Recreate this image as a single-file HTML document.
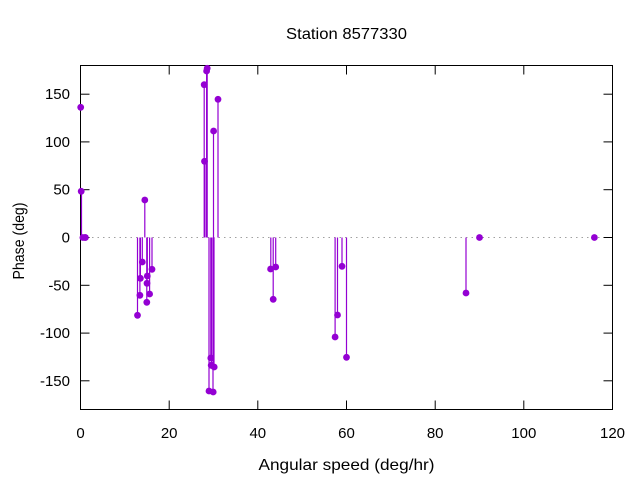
<!DOCTYPE html>
<html>
<head>
<meta charset="utf-8">
<style>
  html, body { margin: 0; padding: 0; background: #ffffff; }
  svg { display: block; }
  text { font-family: "Liberation Sans", "DejaVu Sans", sans-serif; fill: #000; }
</style>
</head>
<body>
<svg width="640" height="480" viewBox="0 0 640 480" xmlns="http://www.w3.org/2000/svg">
  <rect x="0" y="0" width="640" height="480" fill="#ffffff"/>

  <!-- title -->
  <text x="346.5" y="39" font-size="16" text-anchor="middle" textLength="121" lengthAdjust="spacingAndGlyphs">Station 8577330</text>

  <!-- zero reference line -->
  <line x1="81" y1="237.5" x2="612" y2="237.5" stroke="#a0a0a0" stroke-width="1" stroke-dasharray="1.5 4"/>

  <!-- border -->
  <rect x="80.5" y="65.5" width="532" height="344" fill="none" stroke="#000" stroke-width="1"/>

  <!-- ticks -->
  <g stroke="#000" stroke-width="1">
    <!-- y ticks left -->
    <line x1="80.5" y1="94.2" x2="89.5" y2="94.2"/>
    <line x1="80.5" y1="141.9" x2="89.5" y2="141.9"/>
    <line x1="80.5" y1="189.7" x2="89.5" y2="189.7"/>
    <line x1="80.5" y1="237.5" x2="89.5" y2="237.5"/>
    <line x1="80.5" y1="285.3" x2="89.5" y2="285.3"/>
    <line x1="80.5" y1="333.1" x2="89.5" y2="333.1"/>
    <line x1="80.5" y1="380.8" x2="89.5" y2="380.8"/>
    <!-- y ticks right -->
    <line x1="603.5" y1="94.2" x2="612.5" y2="94.2"/>
    <line x1="603.5" y1="141.9" x2="612.5" y2="141.9"/>
    <line x1="603.5" y1="189.7" x2="612.5" y2="189.7"/>
    <line x1="603.5" y1="237.5" x2="612.5" y2="237.5"/>
    <line x1="603.5" y1="285.3" x2="612.5" y2="285.3"/>
    <line x1="603.5" y1="333.1" x2="612.5" y2="333.1"/>
    <line x1="603.5" y1="380.8" x2="612.5" y2="380.8"/>
    <!-- x ticks bottom -->
    <line x1="169.2" y1="409.5" x2="169.2" y2="400.5"/>
    <line x1="257.8" y1="409.5" x2="257.8" y2="400.5"/>
    <line x1="346.5" y1="409.5" x2="346.5" y2="400.5"/>
    <line x1="435.2" y1="409.5" x2="435.2" y2="400.5"/>
    <line x1="523.8" y1="409.5" x2="523.8" y2="400.5"/>
    <!-- x ticks top -->
    <line x1="169.2" y1="65.5" x2="169.2" y2="74.5"/>
    <line x1="257.8" y1="65.5" x2="257.8" y2="74.5"/>
    <line x1="346.5" y1="65.5" x2="346.5" y2="74.5"/>
    <line x1="435.2" y1="65.5" x2="435.2" y2="74.5"/>
    <line x1="523.8" y1="65.5" x2="523.8" y2="74.5"/>
  </g>

  <!-- y tick labels -->
  <g font-size="15" text-anchor="end">
    <text x="70" y="99.2">150</text>
    <text x="70" y="146.9">100</text>
    <text x="70" y="194.7">50</text>
    <text x="70" y="242.5">0</text>
    <text x="70" y="290.3">-50</text>
    <text x="70" y="338.1">-100</text>
    <text x="70" y="385.8">-150</text>
  </g>

  <!-- x tick labels -->
  <g font-size="15" text-anchor="middle">
    <text x="80.5" y="438">0</text>
    <text x="169.2" y="438">20</text>
    <text x="257.8" y="438">40</text>
    <text x="346.5" y="438">60</text>
    <text x="435.2" y="438">80</text>
    <text x="523.8" y="438">100</text>
    <text x="612.5" y="438">120</text>
  </g>

  <!-- axis labels -->
  <text x="346.5" y="470" font-size="16" text-anchor="middle" textLength="176" lengthAdjust="spacingAndGlyphs">Angular speed (deg/hr)</text>
  <text transform="translate(24,241) rotate(-90)" font-size="16" text-anchor="middle" textLength="77" lengthAdjust="spacingAndGlyphs">Phase (deg)</text>

  <!-- impulses -->
  <g stroke="#9400d3" stroke-width="1.2">
    <line x1="81.5" y1="237.5" x2="81.5" y2="191.3"/>
    <line x1="137.5" y1="237.5" x2="137.5" y2="315.3"/>
    <line x1="139.9" y1="237.5" x2="139.9" y2="295.3"/>
    <line x1="140.4" y1="237.5" x2="140.4" y2="278.3"/>
    <line x1="142.3" y1="237.5" x2="142.3" y2="262"/>
    <line x1="144.8" y1="237.5" x2="144.8" y2="200"/>
    <line x1="146.8" y1="237.5" x2="146.8" y2="302.3"/>
    <line x1="147.0" y1="237.5" x2="147.0" y2="283.3"/>
    <line x1="147.3" y1="237.5" x2="147.3" y2="276"/>
    <line x1="149.6" y1="237.5" x2="149.6" y2="294"/>
    <line x1="152.0" y1="237.5" x2="152.0" y2="269.3"/>

    <line x1="204.2" y1="237.5" x2="204.2" y2="84.7"/>
    <line x1="205.0" y1="237.5" x2="205.0" y2="161.3"/>
    <line x1="206.6" y1="237.5" x2="206.6" y2="71"/>
    <line x1="207.2" y1="237.5" x2="207.2" y2="68.3"/>
    <line x1="209.0" y1="237.5" x2="209.0" y2="391"/>
    <line x1="210.8" y1="237.5" x2="210.8" y2="358"/>
    <line x1="211.5" y1="237.5" x2="211.5" y2="365.3"/>
    <line x1="213.0" y1="237.5" x2="213.0" y2="392"/>
    <line x1="213.5" y1="237.5" x2="213.5" y2="131"/>
    <line x1="214.0" y1="237.5" x2="214.0" y2="367"/>
    <line x1="218.0" y1="237.5" x2="218.0" y2="99.3"/>

    <line x1="270.8" y1="237.5" x2="270.8" y2="269"/>
    <line x1="273.2" y1="237.5" x2="273.2" y2="299.3"/>
    <line x1="275.7" y1="237.5" x2="275.7" y2="267"/>

    <line x1="335.1" y1="237.5" x2="335.1" y2="337"/>
    <line x1="337.5" y1="237.5" x2="337.5" y2="315"/>
    <line x1="342.0" y1="237.5" x2="342.0" y2="266.3"/>
    <line x1="346.5" y1="237.5" x2="346.5" y2="357.3"/>

    <line x1="466.0" y1="237.5" x2="466.0" y2="293"/>
  </g>

  <!-- points -->
  <g fill="#9400d3">
    <circle cx="80.7" cy="107.3" r="3.4"/>
    <circle cx="81.2" cy="191.3" r="3.4"/>
    <circle cx="82.9" cy="237.5" r="3.4"/>
    <circle cx="85.0" cy="237.5" r="3.4"/>
    <circle cx="85.4" cy="237.5" r="3.4"/>

    <circle cx="137.5" cy="315.3" r="3.4"/>
    <circle cx="139.9" cy="295.3" r="3.4"/>
    <circle cx="140.4" cy="278.3" r="3.4"/>
    <circle cx="142.3" cy="262" r="3.4"/>
    <circle cx="144.8" cy="200" r="3.4"/>
    <circle cx="146.8" cy="302.3" r="3.4"/>
    <circle cx="147.0" cy="283.3" r="3.4"/>
    <circle cx="147.3" cy="276" r="3.4"/>
    <circle cx="149.6" cy="294" r="3.4"/>
    <circle cx="152.0" cy="269.3" r="3.4"/>

    <circle cx="204.2" cy="84.7" r="3.4"/>
    <circle cx="204.5" cy="161.3" r="3.4"/>
    <circle cx="206.6" cy="71" r="3.4"/>
    <circle cx="207.2" cy="68.3" r="3.4"/>
    <circle cx="209.0" cy="391" r="3.4"/>
    <circle cx="210.8" cy="358" r="3.4"/>
    <circle cx="211.2" cy="365.3" r="3.4"/>
    <circle cx="213.2" cy="392" r="3.4"/>
    <circle cx="213.6" cy="131" r="3.4"/>
    <circle cx="214.2" cy="367" r="3.4"/>
    <circle cx="218.0" cy="99.3" r="3.4"/>

    <circle cx="270.6" cy="269" r="3.4"/>
    <circle cx="273.2" cy="299.3" r="3.4"/>
    <circle cx="275.7" cy="267" r="3.4"/>

    <circle cx="335.1" cy="337" r="3.4"/>
    <circle cx="337.5" cy="315" r="3.4"/>
    <circle cx="342.0" cy="266.3" r="3.4"/>
    <circle cx="346.5" cy="357.3" r="3.4"/>

    <circle cx="466.0" cy="293" r="3.4"/>
    <circle cx="479.5" cy="237.5" r="3.4"/>
    <circle cx="594.4" cy="237.5" r="3.4"/>
  </g>
</svg>
</body>
</html>
